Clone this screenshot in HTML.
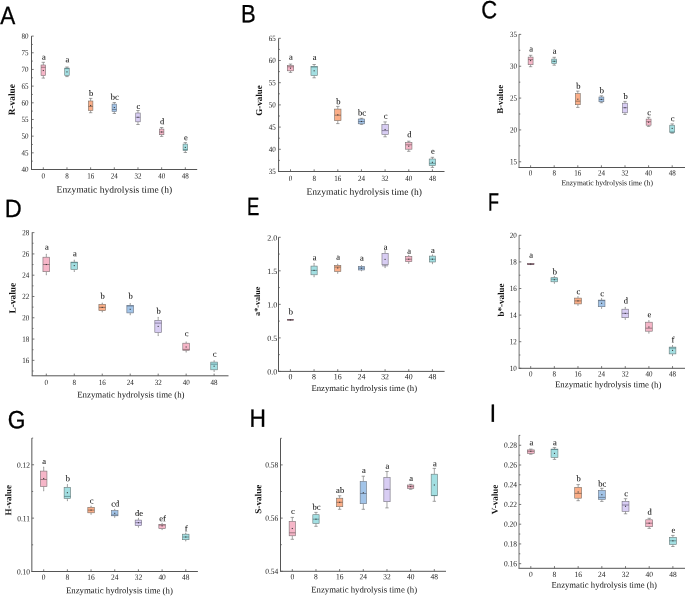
<!DOCTYPE html>
<html><head><meta charset="utf-8"><style>
html,body{margin:0;padding:0;background:#fff;overflow:hidden;}
svg{display:block;will-change:transform;}
text{-webkit-font-smoothing:antialiased;text-rendering:geometricPrecision;}
.tl{font-family:"Liberation Serif",serif;fill:#222;}
.tt{font-family:"Liberation Serif",serif;fill:#151515;}
.yt{font-family:"Liberation Serif",serif;font-weight:bold;fill:#111;}
.lt{font-family:"Liberation Serif",serif;fill:#111;stroke:#111;stroke-width:0.08;}
.pl{font-family:"Liberation Sans",sans-serif;fill:#000;stroke:#000;stroke-width:0.3;}
</style></head><body>
<svg width="685" height="596" viewBox="0 0 685 596">
<path d="M31.5,36.1V169.5" fill="none" stroke="#555" stroke-width="1"/>
<path d="M31.0,169.5H197.2" fill="none" stroke="#555" stroke-width="1"/>
<line x1="31.5" y1="169.50" x2="33.7" y2="169.50" stroke="#555" stroke-width="0.8"/>
<text transform="translate(28.60,172.10) rotate(0.05) scale(0.875,1)" text-anchor="end" class="tl" font-size="8">40</text>
<line x1="31.5" y1="152.82" x2="33.7" y2="152.82" stroke="#555" stroke-width="0.8"/>
<text transform="translate(28.60,155.42) rotate(0.05) scale(0.875,1)" text-anchor="end" class="tl" font-size="8">45</text>
<line x1="31.5" y1="136.15" x2="33.7" y2="136.15" stroke="#555" stroke-width="0.8"/>
<text transform="translate(28.60,138.75) rotate(0.05) scale(0.875,1)" text-anchor="end" class="tl" font-size="8">50</text>
<line x1="31.5" y1="119.47" x2="33.7" y2="119.47" stroke="#555" stroke-width="0.8"/>
<text transform="translate(28.60,122.07) rotate(0.05) scale(0.875,1)" text-anchor="end" class="tl" font-size="8">55</text>
<line x1="31.5" y1="102.80" x2="33.7" y2="102.80" stroke="#555" stroke-width="0.8"/>
<text transform="translate(28.60,105.40) rotate(0.05) scale(0.875,1)" text-anchor="end" class="tl" font-size="8">60</text>
<line x1="31.5" y1="86.12" x2="33.7" y2="86.12" stroke="#555" stroke-width="0.8"/>
<text transform="translate(28.60,88.72) rotate(0.05) scale(0.875,1)" text-anchor="end" class="tl" font-size="8">65</text>
<line x1="31.5" y1="69.45" x2="33.7" y2="69.45" stroke="#555" stroke-width="0.8"/>
<text transform="translate(28.60,72.05) rotate(0.05) scale(0.875,1)" text-anchor="end" class="tl" font-size="8">70</text>
<line x1="31.5" y1="52.77" x2="33.7" y2="52.77" stroke="#555" stroke-width="0.8"/>
<text transform="translate(28.60,55.37) rotate(0.05) scale(0.875,1)" text-anchor="end" class="tl" font-size="8">75</text>
<line x1="31.5" y1="36.10" x2="33.7" y2="36.10" stroke="#555" stroke-width="0.8"/>
<text transform="translate(28.60,38.70) rotate(0.05) scale(0.875,1)" text-anchor="end" class="tl" font-size="8">80</text>
<line x1="31.5" y1="161.16" x2="32.8" y2="161.16" stroke="#555" stroke-width="0.8"/>
<line x1="31.5" y1="144.49" x2="32.8" y2="144.49" stroke="#555" stroke-width="0.8"/>
<line x1="31.5" y1="127.81" x2="32.8" y2="127.81" stroke="#555" stroke-width="0.8"/>
<line x1="31.5" y1="111.14" x2="32.8" y2="111.14" stroke="#555" stroke-width="0.8"/>
<line x1="31.5" y1="94.46" x2="32.8" y2="94.46" stroke="#555" stroke-width="0.8"/>
<line x1="31.5" y1="77.79" x2="32.8" y2="77.79" stroke="#555" stroke-width="0.8"/>
<line x1="31.5" y1="61.11" x2="32.8" y2="61.11" stroke="#555" stroke-width="0.8"/>
<line x1="31.5" y1="44.44" x2="32.8" y2="44.44" stroke="#555" stroke-width="0.8"/>
<line x1="43.30" y1="169.5" x2="43.30" y2="167.3" stroke="#555" stroke-width="0.8"/>
<text transform="translate(43.30,178.60) rotate(0.05) scale(0.875,1)" text-anchor="middle" class="tl" font-size="8">0</text>
<line x1="66.97" y1="169.5" x2="66.97" y2="167.3" stroke="#555" stroke-width="0.8"/>
<text transform="translate(66.97,178.60) rotate(0.05) scale(0.875,1)" text-anchor="middle" class="tl" font-size="8">8</text>
<line x1="90.64" y1="169.5" x2="90.64" y2="167.3" stroke="#555" stroke-width="0.8"/>
<text transform="translate(90.64,178.60) rotate(0.05) scale(0.875,1)" text-anchor="middle" class="tl" font-size="8">16</text>
<line x1="114.31" y1="169.5" x2="114.31" y2="167.3" stroke="#555" stroke-width="0.8"/>
<text transform="translate(114.31,178.60) rotate(0.05) scale(0.875,1)" text-anchor="middle" class="tl" font-size="8">24</text>
<line x1="137.98" y1="169.5" x2="137.98" y2="167.3" stroke="#555" stroke-width="0.8"/>
<text transform="translate(137.98,178.60) rotate(0.05) scale(0.875,1)" text-anchor="middle" class="tl" font-size="8">32</text>
<line x1="161.65" y1="169.5" x2="161.65" y2="167.3" stroke="#555" stroke-width="0.8"/>
<text transform="translate(161.65,178.60) rotate(0.05) scale(0.875,1)" text-anchor="middle" class="tl" font-size="8">40</text>
<line x1="185.32" y1="169.5" x2="185.32" y2="167.3" stroke="#555" stroke-width="0.8"/>
<text transform="translate(185.32,178.60) rotate(0.05) scale(0.875,1)" text-anchor="middle" class="tl" font-size="8">48</text>
<text transform="translate(56.6,192.6) rotate(0.05)" class="tt" font-size="9.5" textLength="115.5" lengthAdjust="spacingAndGlyphs">Enzymatic hydrolysis time (h)</text>
<text transform="translate(14.8,99.7) rotate(-89.95)" text-anchor="middle" class="yt" font-size="9.3">R-value</text>
<text transform="translate(0.2,24) rotate(0.05) scale(0.9,1)" class="pl" font-size="25">A</text>
<path d="M43.30,62.3V65.0M43.30,75.6V78.1M41.60,62.3H45.00M41.60,78.1H45.00" stroke="#666" stroke-width="0.6" fill="none"/>
<rect x="41.05" y="65.0" width="4.5" height="10.60" fill="#f6b6c8" stroke="#7a7072" stroke-width="0.6"/>
<path d="M41.05,67.3H45.55" stroke="#7a5a62" stroke-width="0.7"/>
<rect x="42.75" y="69.95" width="1.1" height="1.1" fill="#3a3a3a"/>
<text transform="translate(43.80,59.65) rotate(0.05)" text-anchor="middle" class="lt" font-size="8.5">a</text>
<path d="M66.97,67.0V68.1M66.97,75.6V76.6M65.27,67.0H68.67M65.27,76.6H68.67" stroke="#666" stroke-width="0.6" fill="none"/>
<rect x="64.72" y="68.1" width="4.5" height="7.50" fill="#a3dfe2" stroke="#6a7a7a" stroke-width="0.6"/>
<path d="M64.72,68.6H69.22" stroke="#4e7a7c" stroke-width="0.7"/>
<rect x="66.42" y="71.35" width="1.1" height="1.1" fill="#3a3a3a"/>
<text transform="translate(67.47,62.35) rotate(0.05)" text-anchor="middle" class="lt" font-size="8.5">a</text>
<path d="M90.64,98.4V101.0M90.64,110.5V112.7M88.94,98.4H92.34M88.94,112.7H92.34" stroke="#666" stroke-width="0.6" fill="none"/>
<rect x="88.39" y="101.0" width="4.5" height="9.50" fill="#fbae88" stroke="#7a7068" stroke-width="0.6"/>
<path d="M88.39,106.4H92.89" stroke="#7a5a48" stroke-width="0.7"/>
<rect x="90.09" y="104.95" width="1.1" height="1.1" fill="#3a3a3a"/>
<text transform="translate(91.14,95.95) rotate(0.05)" text-anchor="middle" class="lt" font-size="8.5">b</text>
<path d="M114.31,102.5V104.1M114.31,111.5V113.5M112.61,102.5H116.01M112.61,113.5H116.01" stroke="#666" stroke-width="0.6" fill="none"/>
<rect x="112.06" y="104.1" width="4.5" height="7.40" fill="#a2c4e8" stroke="#6c7480" stroke-width="0.6"/>
<path d="M112.06,109.5H116.56" stroke="#5a6a80" stroke-width="0.7"/>
<rect x="113.76" y="106.95" width="1.1" height="1.1" fill="#3a3a3a"/>
<text transform="translate(114.81,99.65) rotate(0.05)" text-anchor="middle" class="lt" font-size="8.5">bc</text>
<path d="M137.98,110.5V113.0M137.98,121.8V124.5M136.28,110.5H139.68M136.28,124.5H139.68" stroke="#666" stroke-width="0.6" fill="none"/>
<rect x="135.73" y="113.0" width="4.5" height="8.80" fill="#d8cdf3" stroke="#76727e" stroke-width="0.6"/>
<path d="M135.73,117.3H140.23" stroke="#6a6080" stroke-width="0.7"/>
<rect x="137.43" y="116.75" width="1.1" height="1.1" fill="#3a3a3a"/>
<text transform="translate(138.48,108.95) rotate(0.05)" text-anchor="middle" class="lt" font-size="8.5">c</text>
<path d="M161.65,127.5V129.1M161.65,134.7V136.4M159.95,127.5H163.35M159.95,136.4H163.35" stroke="#666" stroke-width="0.6" fill="none"/>
<rect x="159.40" y="129.1" width="4.5" height="5.60" fill="#f6b6c8" stroke="#7a7072" stroke-width="0.6"/>
<path d="M159.40,132.0H163.90" stroke="#7a5a62" stroke-width="0.7"/>
<rect x="161.10" y="131.45" width="1.1" height="1.1" fill="#3a3a3a"/>
<text transform="translate(162.15,124.35) rotate(0.05)" text-anchor="middle" class="lt" font-size="8.5">d</text>
<path d="M185.32,142.6V144.1M185.32,150.5V152.5M183.62,142.6H187.02M183.62,152.5H187.02" stroke="#666" stroke-width="0.6" fill="none"/>
<rect x="183.07" y="144.1" width="4.5" height="6.40" fill="#a3dfe2" stroke="#6a7a7a" stroke-width="0.6"/>
<path d="M183.07,149.6H187.57" stroke="#4e7a7c" stroke-width="0.7"/>
<rect x="184.77" y="146.85" width="1.1" height="1.1" fill="#3a3a3a"/>
<text transform="translate(185.82,140.25) rotate(0.05)" text-anchor="middle" class="lt" font-size="8.5">e</text>
<path d="M278.6,38.3V171.5" fill="none" stroke="#555" stroke-width="1"/>
<path d="M278.1,171.5H444.5" fill="none" stroke="#555" stroke-width="1"/>
<line x1="278.6" y1="171.50" x2="280.8" y2="171.50" stroke="#555" stroke-width="0.8"/>
<text transform="translate(275.70,174.10) rotate(0.05) scale(0.875,1)" text-anchor="end" class="tl" font-size="8">35</text>
<line x1="278.6" y1="149.30" x2="280.8" y2="149.30" stroke="#555" stroke-width="0.8"/>
<text transform="translate(275.70,151.90) rotate(0.05) scale(0.875,1)" text-anchor="end" class="tl" font-size="8">40</text>
<line x1="278.6" y1="127.10" x2="280.8" y2="127.10" stroke="#555" stroke-width="0.8"/>
<text transform="translate(275.70,129.70) rotate(0.05) scale(0.875,1)" text-anchor="end" class="tl" font-size="8">45</text>
<line x1="278.6" y1="104.90" x2="280.8" y2="104.90" stroke="#555" stroke-width="0.8"/>
<text transform="translate(275.70,107.50) rotate(0.05) scale(0.875,1)" text-anchor="end" class="tl" font-size="8">50</text>
<line x1="278.6" y1="82.70" x2="280.8" y2="82.70" stroke="#555" stroke-width="0.8"/>
<text transform="translate(275.70,85.30) rotate(0.05) scale(0.875,1)" text-anchor="end" class="tl" font-size="8">55</text>
<line x1="278.6" y1="60.50" x2="280.8" y2="60.50" stroke="#555" stroke-width="0.8"/>
<text transform="translate(275.70,63.10) rotate(0.05) scale(0.875,1)" text-anchor="end" class="tl" font-size="8">60</text>
<line x1="278.6" y1="38.30" x2="280.8" y2="38.30" stroke="#555" stroke-width="0.8"/>
<text transform="translate(275.70,40.90) rotate(0.05) scale(0.875,1)" text-anchor="end" class="tl" font-size="8">65</text>
<line x1="278.6" y1="160.40" x2="279.90000000000003" y2="160.40" stroke="#555" stroke-width="0.8"/>
<line x1="278.6" y1="138.20" x2="279.90000000000003" y2="138.20" stroke="#555" stroke-width="0.8"/>
<line x1="278.6" y1="116.00" x2="279.90000000000003" y2="116.00" stroke="#555" stroke-width="0.8"/>
<line x1="278.6" y1="93.80" x2="279.90000000000003" y2="93.80" stroke="#555" stroke-width="0.8"/>
<line x1="278.6" y1="71.60" x2="279.90000000000003" y2="71.60" stroke="#555" stroke-width="0.8"/>
<line x1="278.6" y1="49.40" x2="279.90000000000003" y2="49.40" stroke="#555" stroke-width="0.8"/>
<line x1="290.50" y1="171.5" x2="290.50" y2="169.3" stroke="#555" stroke-width="0.8"/>
<text transform="translate(290.50,181.00) rotate(0.05) scale(0.875,1)" text-anchor="middle" class="tl" font-size="8">0</text>
<line x1="314.15" y1="171.5" x2="314.15" y2="169.3" stroke="#555" stroke-width="0.8"/>
<text transform="translate(314.15,181.00) rotate(0.05) scale(0.875,1)" text-anchor="middle" class="tl" font-size="8">8</text>
<line x1="337.80" y1="171.5" x2="337.80" y2="169.3" stroke="#555" stroke-width="0.8"/>
<text transform="translate(337.80,181.00) rotate(0.05) scale(0.875,1)" text-anchor="middle" class="tl" font-size="8">16</text>
<line x1="361.45" y1="171.5" x2="361.45" y2="169.3" stroke="#555" stroke-width="0.8"/>
<text transform="translate(361.45,181.00) rotate(0.05) scale(0.875,1)" text-anchor="middle" class="tl" font-size="8">24</text>
<line x1="385.10" y1="171.5" x2="385.10" y2="169.3" stroke="#555" stroke-width="0.8"/>
<text transform="translate(385.10,181.00) rotate(0.05) scale(0.875,1)" text-anchor="middle" class="tl" font-size="8">32</text>
<line x1="408.75" y1="171.5" x2="408.75" y2="169.3" stroke="#555" stroke-width="0.8"/>
<text transform="translate(408.75,181.00) rotate(0.05) scale(0.875,1)" text-anchor="middle" class="tl" font-size="8">40</text>
<line x1="432.40" y1="171.5" x2="432.40" y2="169.3" stroke="#555" stroke-width="0.8"/>
<text transform="translate(432.40,181.00) rotate(0.05) scale(0.875,1)" text-anchor="middle" class="tl" font-size="8">48</text>
<text transform="translate(306.4,194.8) rotate(0.05)" class="tt" font-size="9.5" textLength="115.6" lengthAdjust="spacingAndGlyphs">Enzymatic hydrolysis time (h)</text>
<text transform="translate(262.0,100.5) rotate(-89.95)" text-anchor="middle" class="yt" font-size="9.0">G-value</text>
<text transform="translate(240.9,22.2) rotate(0.05) scale(0.88,1)" class="pl" font-size="25">B</text>
<path d="M290.50,64.1V65.5M290.50,70.8V72.4M288.80,64.1H292.20M288.80,72.4H292.20" stroke="#666" stroke-width="0.6" fill="none"/>
<rect x="287.30" y="65.5" width="6.4" height="5.30" fill="#f6b6c8" stroke="#7a7072" stroke-width="0.6"/>
<path d="M287.30,66.8H293.70" stroke="#7a5a62" stroke-width="0.7"/>
<rect x="289.95" y="67.65" width="1.1" height="1.1" fill="#3a3a3a"/>
<text transform="translate(291.00,59.65) rotate(0.05)" text-anchor="middle" class="lt" font-size="8.5">a</text>
<path d="M314.15,64.5V66.3M314.15,75.5V77.8M312.45,64.5H315.85M312.45,77.8H315.85" stroke="#666" stroke-width="0.6" fill="none"/>
<rect x="310.95" y="66.3" width="6.4" height="9.20" fill="#a3dfe2" stroke="#6a7a7a" stroke-width="0.6"/>
<path d="M310.95,67.0H317.35" stroke="#4e7a7c" stroke-width="0.7"/>
<rect x="313.60" y="70.25" width="1.1" height="1.1" fill="#3a3a3a"/>
<text transform="translate(314.65,60.05) rotate(0.05)" text-anchor="middle" class="lt" font-size="8.5">a</text>
<path d="M337.80,106.4V109.1M337.80,120.6V123.6M336.10,106.4H339.50M336.10,123.6H339.50" stroke="#666" stroke-width="0.6" fill="none"/>
<rect x="334.60" y="109.1" width="6.4" height="11.50" fill="#fbae88" stroke="#7a7068" stroke-width="0.6"/>
<path d="M334.60,115.2H341.00" stroke="#7a5a48" stroke-width="0.7"/>
<rect x="337.25" y="114.25" width="1.1" height="1.1" fill="#3a3a3a"/>
<text transform="translate(338.30,104.15) rotate(0.05)" text-anchor="middle" class="lt" font-size="8.5">b</text>
<path d="M361.45,118.3V119.0M361.45,123.8V124.4M359.75,118.3H363.15M359.75,124.4H363.15" stroke="#666" stroke-width="0.6" fill="none"/>
<rect x="358.25" y="119.0" width="6.4" height="4.80" fill="#a2c4e8" stroke="#6c7480" stroke-width="0.6"/>
<path d="M358.25,121.5H364.65" stroke="#5a6a80" stroke-width="0.7"/>
<rect x="360.90" y="120.95" width="1.1" height="1.1" fill="#3a3a3a"/>
<text transform="translate(361.95,115.45) rotate(0.05)" text-anchor="middle" class="lt" font-size="8.5">bc</text>
<path d="M385.10,121.9V124.4M385.10,134.4V136.8M383.40,121.9H386.80M383.40,136.8H386.80" stroke="#666" stroke-width="0.6" fill="none"/>
<rect x="381.90" y="124.4" width="6.4" height="10.00" fill="#d8cdf3" stroke="#76727e" stroke-width="0.6"/>
<path d="M381.90,130.6H388.30" stroke="#6a6080" stroke-width="0.7"/>
<rect x="384.55" y="128.95" width="1.1" height="1.1" fill="#3a3a3a"/>
<text transform="translate(385.60,118.85) rotate(0.05)" text-anchor="middle" class="lt" font-size="8.5">c</text>
<path d="M408.75,141.2V142.6M408.75,149.2V151.3M407.05,141.2H410.45M407.05,151.3H410.45" stroke="#666" stroke-width="0.6" fill="none"/>
<rect x="405.55" y="142.6" width="6.4" height="6.60" fill="#f6b6c8" stroke="#7a7072" stroke-width="0.6"/>
<path d="M405.55,144.8H411.95" stroke="#7a5a62" stroke-width="0.7"/>
<rect x="408.20" y="145.65" width="1.1" height="1.1" fill="#3a3a3a"/>
<text transform="translate(409.25,137.25) rotate(0.05)" text-anchor="middle" class="lt" font-size="8.5">d</text>
<path d="M432.40,157.3V159.0M432.40,165.5V167.4M430.70,157.3H434.10M430.70,167.4H434.10" stroke="#666" stroke-width="0.6" fill="none"/>
<rect x="429.20" y="159.0" width="6.4" height="6.50" fill="#a3dfe2" stroke="#6a7a7a" stroke-width="0.6"/>
<path d="M429.20,163.3H435.60" stroke="#4e7a7c" stroke-width="0.7"/>
<rect x="431.85" y="161.75" width="1.1" height="1.1" fill="#3a3a3a"/>
<text transform="translate(432.90,153.75) rotate(0.05)" text-anchor="middle" class="lt" font-size="8.5">e</text>
<path d="M519.0,34.2V167.5" fill="none" stroke="#727272" stroke-width="1"/>
<path d="M518.5,167.5H685" fill="none" stroke="#555" stroke-width="1"/>
<line x1="519.0" y1="161.77" x2="521.2" y2="161.77" stroke="#555" stroke-width="0.8"/>
<text transform="translate(516.90,164.37) rotate(0.05) scale(0.875,1)" text-anchor="end" class="tl" font-size="8">15</text>
<line x1="519.0" y1="129.92" x2="521.2" y2="129.92" stroke="#555" stroke-width="0.8"/>
<text transform="translate(516.90,132.52) rotate(0.05) scale(0.875,1)" text-anchor="end" class="tl" font-size="8">20</text>
<line x1="519.0" y1="98.08" x2="521.2" y2="98.08" stroke="#555" stroke-width="0.8"/>
<text transform="translate(516.90,100.68) rotate(0.05) scale(0.875,1)" text-anchor="end" class="tl" font-size="8">25</text>
<line x1="519.0" y1="66.24" x2="521.2" y2="66.24" stroke="#555" stroke-width="0.8"/>
<text transform="translate(516.90,68.84) rotate(0.05) scale(0.875,1)" text-anchor="end" class="tl" font-size="8">30</text>
<line x1="519.0" y1="34.39" x2="521.2" y2="34.39" stroke="#555" stroke-width="0.8"/>
<text transform="translate(516.90,36.99) rotate(0.05) scale(0.875,1)" text-anchor="end" class="tl" font-size="8">35</text>
<line x1="519.0" y1="145.85" x2="520.3" y2="145.85" stroke="#555" stroke-width="0.8"/>
<line x1="519.0" y1="114.00" x2="520.3" y2="114.00" stroke="#555" stroke-width="0.8"/>
<line x1="519.0" y1="82.16" x2="520.3" y2="82.16" stroke="#555" stroke-width="0.8"/>
<line x1="519.0" y1="50.31" x2="520.3" y2="50.31" stroke="#555" stroke-width="0.8"/>
<line x1="530.60" y1="167.5" x2="530.60" y2="165.3" stroke="#555" stroke-width="0.8"/>
<text transform="translate(530.60,175.40) rotate(0.05) scale(0.875,1)" text-anchor="middle" class="tl" font-size="8">0</text>
<line x1="554.20" y1="167.5" x2="554.20" y2="165.3" stroke="#555" stroke-width="0.8"/>
<text transform="translate(554.20,175.40) rotate(0.05) scale(0.875,1)" text-anchor="middle" class="tl" font-size="8">8</text>
<line x1="577.80" y1="167.5" x2="577.80" y2="165.3" stroke="#555" stroke-width="0.8"/>
<text transform="translate(577.80,175.40) rotate(0.05) scale(0.875,1)" text-anchor="middle" class="tl" font-size="8">16</text>
<line x1="601.40" y1="167.5" x2="601.40" y2="165.3" stroke="#555" stroke-width="0.8"/>
<text transform="translate(601.40,175.40) rotate(0.05) scale(0.875,1)" text-anchor="middle" class="tl" font-size="8">24</text>
<line x1="625.00" y1="167.5" x2="625.00" y2="165.3" stroke="#555" stroke-width="0.8"/>
<text transform="translate(625.00,175.40) rotate(0.05) scale(0.875,1)" text-anchor="middle" class="tl" font-size="8">32</text>
<line x1="648.60" y1="167.5" x2="648.60" y2="165.3" stroke="#555" stroke-width="0.8"/>
<text transform="translate(648.60,175.40) rotate(0.05) scale(0.875,1)" text-anchor="middle" class="tl" font-size="8">40</text>
<line x1="672.20" y1="167.5" x2="672.20" y2="165.3" stroke="#555" stroke-width="0.8"/>
<text transform="translate(672.20,175.40) rotate(0.05) scale(0.875,1)" text-anchor="middle" class="tl" font-size="8">48</text>
<text transform="translate(561.4,185.2) rotate(0.05)" class="tt" font-size="7.6" textLength="91.5" lengthAdjust="spacingAndGlyphs">Enzymatic hydrolysis time (h)</text>
<text transform="translate(503.0,99.3) rotate(-89.95)" text-anchor="middle" class="yt" font-size="8.8">B-value</text>
<text transform="translate(481.2,18.2) rotate(0.05) scale(0.88,1)" class="pl" font-size="25">C</text>
<path d="M530.60,55.3V57.1M530.60,64.7V66.7M528.90,55.3H532.30M528.90,66.7H532.30" stroke="#666" stroke-width="0.6" fill="none"/>
<rect x="528.15" y="57.1" width="4.9" height="7.60" fill="#f6b6c8" stroke="#7a7072" stroke-width="0.6"/>
<path d="M528.15,59.6H533.05" stroke="#7a5a62" stroke-width="0.7"/>
<rect x="530.05" y="60.05" width="1.1" height="1.1" fill="#3a3a3a"/>
<text transform="translate(531.10,51.55) rotate(0.05)" text-anchor="middle" class="lt" font-size="8.5">a</text>
<path d="M554.20,57.3V59.1M554.20,63.7V65.2M552.50,57.3H555.90M552.50,65.2H555.90" stroke="#666" stroke-width="0.6" fill="none"/>
<rect x="551.75" y="59.1" width="4.9" height="4.60" fill="#a3dfe2" stroke="#6a7a7a" stroke-width="0.6"/>
<path d="M551.75,61.3H556.65" stroke="#4e7a7c" stroke-width="0.7"/>
<rect x="553.65" y="60.75" width="1.1" height="1.1" fill="#3a3a3a"/>
<text transform="translate(554.70,53.85) rotate(0.05)" text-anchor="middle" class="lt" font-size="8.5">a</text>
<path d="M577.80,91.1V93.6M577.80,104.7V107.4M576.10,91.1H579.50M576.10,107.4H579.50" stroke="#666" stroke-width="0.6" fill="none"/>
<rect x="575.35" y="93.6" width="4.9" height="11.10" fill="#fbae88" stroke="#7a7068" stroke-width="0.6"/>
<path d="M575.35,101.2H580.25" stroke="#7a5a48" stroke-width="0.7"/>
<rect x="577.25" y="98.65" width="1.1" height="1.1" fill="#3a3a3a"/>
<text transform="translate(578.30,88.85) rotate(0.05)" text-anchor="middle" class="lt" font-size="8.5">b</text>
<path d="M601.40,95.8V97.0M601.40,101.7V102.7M599.70,95.8H603.10M599.70,102.7H603.10" stroke="#666" stroke-width="0.6" fill="none"/>
<rect x="598.95" y="97.0" width="4.9" height="4.70" fill="#a2c4e8" stroke="#6c7480" stroke-width="0.6"/>
<path d="M598.95,99.4H603.85" stroke="#5a6a80" stroke-width="0.7"/>
<rect x="600.85" y="98.85" width="1.1" height="1.1" fill="#3a3a3a"/>
<text transform="translate(601.90,93.35) rotate(0.05)" text-anchor="middle" class="lt" font-size="8.5">b</text>
<path d="M625.00,101.4V103.2M625.00,112.8V114.5M623.30,101.4H626.70M623.30,114.5H626.70" stroke="#666" stroke-width="0.6" fill="none"/>
<rect x="622.55" y="103.2" width="4.9" height="9.60" fill="#d8cdf3" stroke="#76727e" stroke-width="0.6"/>
<path d="M622.55,107.7H627.45" stroke="#6a6080" stroke-width="0.7"/>
<rect x="624.45" y="107.15" width="1.1" height="1.1" fill="#3a3a3a"/>
<text transform="translate(625.50,98.95) rotate(0.05)" text-anchor="middle" class="lt" font-size="8.5">b</text>
<path d="M648.60,117.3V119.1M648.60,125.2V126.4M646.90,117.3H650.30M646.90,126.4H650.30" stroke="#666" stroke-width="0.6" fill="none"/>
<rect x="646.15" y="119.1" width="4.9" height="6.10" fill="#f6b6c8" stroke="#7a7072" stroke-width="0.6"/>
<path d="M646.15,121.7H651.05" stroke="#7a5a62" stroke-width="0.7"/>
<rect x="648.05" y="121.65" width="1.1" height="1.1" fill="#3a3a3a"/>
<text transform="translate(649.10,115.35) rotate(0.05)" text-anchor="middle" class="lt" font-size="8.5">c</text>
<path d="M672.20,123.9V125.2M672.20,132.4V133.2M670.50,123.9H673.90M670.50,133.2H673.90" stroke="#666" stroke-width="0.6" fill="none"/>
<rect x="669.75" y="125.2" width="4.9" height="7.20" fill="#a3dfe2" stroke="#6a7a7a" stroke-width="0.6"/>
<path d="M669.75,132.0H674.65" stroke="#4e7a7c" stroke-width="0.7"/>
<rect x="671.65" y="127.85" width="1.1" height="1.1" fill="#3a3a3a"/>
<text transform="translate(672.70,121.35) rotate(0.05)" text-anchor="middle" class="lt" font-size="8.5">c</text>
<path d="M32.2,232.3V375.8" fill="none" stroke="#555" stroke-width="1"/>
<path d="M31.700000000000003,375.8H228.5" fill="none" stroke="#555" stroke-width="1"/>
<line x1="32.2" y1="360.36" x2="34.400000000000006" y2="360.36" stroke="#555" stroke-width="0.8"/>
<text transform="translate(29.20,362.96) rotate(0.05) scale(0.875,1)" text-anchor="end" class="tl" font-size="8">16</text>
<line x1="32.2" y1="339.07" x2="34.400000000000006" y2="339.07" stroke="#555" stroke-width="0.8"/>
<text transform="translate(29.20,341.67) rotate(0.05) scale(0.875,1)" text-anchor="end" class="tl" font-size="8">18</text>
<line x1="32.2" y1="317.78" x2="34.400000000000006" y2="317.78" stroke="#555" stroke-width="0.8"/>
<text transform="translate(29.20,320.38) rotate(0.05) scale(0.875,1)" text-anchor="end" class="tl" font-size="8">20</text>
<line x1="32.2" y1="296.49" x2="34.400000000000006" y2="296.49" stroke="#555" stroke-width="0.8"/>
<text transform="translate(29.20,299.09) rotate(0.05) scale(0.875,1)" text-anchor="end" class="tl" font-size="8">22</text>
<line x1="32.2" y1="275.20" x2="34.400000000000006" y2="275.20" stroke="#555" stroke-width="0.8"/>
<text transform="translate(29.20,277.80) rotate(0.05) scale(0.875,1)" text-anchor="end" class="tl" font-size="8">24</text>
<line x1="32.2" y1="253.91" x2="34.400000000000006" y2="253.91" stroke="#555" stroke-width="0.8"/>
<text transform="translate(29.20,256.51) rotate(0.05) scale(0.875,1)" text-anchor="end" class="tl" font-size="8">26</text>
<line x1="32.2" y1="232.62" x2="34.400000000000006" y2="232.62" stroke="#555" stroke-width="0.8"/>
<text transform="translate(29.20,235.22) rotate(0.05) scale(0.875,1)" text-anchor="end" class="tl" font-size="8">28</text>
<line x1="32.2" y1="371.01" x2="33.5" y2="371.01" stroke="#555" stroke-width="0.8"/>
<line x1="32.2" y1="349.72" x2="33.5" y2="349.72" stroke="#555" stroke-width="0.8"/>
<line x1="32.2" y1="328.43" x2="33.5" y2="328.43" stroke="#555" stroke-width="0.8"/>
<line x1="32.2" y1="307.14" x2="33.5" y2="307.14" stroke="#555" stroke-width="0.8"/>
<line x1="32.2" y1="285.85" x2="33.5" y2="285.85" stroke="#555" stroke-width="0.8"/>
<line x1="32.2" y1="264.56" x2="33.5" y2="264.56" stroke="#555" stroke-width="0.8"/>
<line x1="32.2" y1="243.26" x2="33.5" y2="243.26" stroke="#555" stroke-width="0.8"/>
<line x1="46.30" y1="375.8" x2="46.30" y2="373.6" stroke="#555" stroke-width="0.8"/>
<text transform="translate(46.30,385.00) rotate(0.05) scale(0.875,1)" text-anchor="middle" class="tl" font-size="8">0</text>
<line x1="74.27" y1="375.8" x2="74.27" y2="373.6" stroke="#555" stroke-width="0.8"/>
<text transform="translate(74.27,385.00) rotate(0.05) scale(0.875,1)" text-anchor="middle" class="tl" font-size="8">8</text>
<line x1="102.24" y1="375.8" x2="102.24" y2="373.6" stroke="#555" stroke-width="0.8"/>
<text transform="translate(102.24,385.00) rotate(0.05) scale(0.875,1)" text-anchor="middle" class="tl" font-size="8">16</text>
<line x1="130.21" y1="375.8" x2="130.21" y2="373.6" stroke="#555" stroke-width="0.8"/>
<text transform="translate(130.21,385.00) rotate(0.05) scale(0.875,1)" text-anchor="middle" class="tl" font-size="8">24</text>
<line x1="158.18" y1="375.8" x2="158.18" y2="373.6" stroke="#555" stroke-width="0.8"/>
<text transform="translate(158.18,385.00) rotate(0.05) scale(0.875,1)" text-anchor="middle" class="tl" font-size="8">32</text>
<line x1="186.15" y1="375.8" x2="186.15" y2="373.6" stroke="#555" stroke-width="0.8"/>
<text transform="translate(186.15,385.00) rotate(0.05) scale(0.875,1)" text-anchor="middle" class="tl" font-size="8">40</text>
<line x1="214.12" y1="375.8" x2="214.12" y2="373.6" stroke="#555" stroke-width="0.8"/>
<text transform="translate(214.12,385.00) rotate(0.05) scale(0.875,1)" text-anchor="middle" class="tl" font-size="8">48</text>
<text transform="translate(77.2,397.5) rotate(0.05)" class="tt" font-size="8.8" textLength="107.3" lengthAdjust="spacingAndGlyphs">Enzymatic hydrolysis time (h)</text>
<text transform="translate(15.6,298.2) rotate(-89.95)" text-anchor="middle" class="yt" font-size="9.4">L-value</text>
<text transform="translate(4.8,217.0) rotate(0.05) scale(0.94,1)" class="pl" font-size="25">D</text>
<path d="M46.30,254.3V257.2M46.30,271.7V274.8M45.90,254.3H46.70M45.90,274.8H46.70" stroke="#666" stroke-width="0.6" fill="none"/>
<rect x="42.95" y="257.2" width="6.7" height="14.50" fill="#f6b6c8" stroke="#7a7072" stroke-width="0.6"/>
<path d="M42.95,264.5H49.65" stroke="#7a5a62" stroke-width="0.7"/>
<rect x="45.75" y="263.95" width="1.1" height="1.1" fill="#3a3a3a"/>
<text transform="translate(46.80,249.85) rotate(0.05)" text-anchor="middle" class="lt" font-size="8.5">a</text>
<path d="M74.27,260.1V262.1M74.27,269.5V271.5M73.87,260.1H74.67M73.87,271.5H74.67" stroke="#666" stroke-width="0.6" fill="none"/>
<rect x="70.92" y="262.1" width="6.7" height="7.40" fill="#a3dfe2" stroke="#6a7a7a" stroke-width="0.6"/>
<path d="M70.92,262.6H77.62" stroke="#4e7a7c" stroke-width="0.7"/>
<rect x="73.72" y="265.05" width="1.1" height="1.1" fill="#3a3a3a"/>
<text transform="translate(74.77,256.15) rotate(0.05)" text-anchor="middle" class="lt" font-size="8.5">a</text>
<path d="M102.24,303.0V304.3M102.24,310.6V312.0M101.84,303.0H102.64M101.84,312.0H102.64" stroke="#666" stroke-width="0.6" fill="none"/>
<rect x="98.89" y="304.3" width="6.7" height="6.30" fill="#fbae88" stroke="#7a7068" stroke-width="0.6"/>
<path d="M98.89,307.4H105.59" stroke="#7a5a48" stroke-width="0.7"/>
<rect x="101.69" y="306.85" width="1.1" height="1.1" fill="#3a3a3a"/>
<text transform="translate(102.74,298.65) rotate(0.05)" text-anchor="middle" class="lt" font-size="8.5">b</text>
<path d="M130.21,303.6V305.3M130.21,312.9V314.8M129.81,303.6H130.61M129.81,314.8H130.61" stroke="#666" stroke-width="0.6" fill="none"/>
<rect x="126.86" y="305.3" width="6.7" height="7.60" fill="#a2c4e8" stroke="#6c7480" stroke-width="0.6"/>
<path d="M126.86,306.0H133.56" stroke="#5a6a80" stroke-width="0.7"/>
<rect x="129.66" y="308.75" width="1.1" height="1.1" fill="#3a3a3a"/>
<text transform="translate(130.71,298.65) rotate(0.05)" text-anchor="middle" class="lt" font-size="8.5">b</text>
<path d="M158.18,317.4V320.4M158.18,332.5V335.6M157.78,317.4H158.58M157.78,335.6H158.58" stroke="#666" stroke-width="0.6" fill="none"/>
<rect x="154.83" y="320.4" width="6.7" height="12.10" fill="#d8cdf3" stroke="#76727e" stroke-width="0.6"/>
<path d="M154.83,323.1H161.53" stroke="#6a6080" stroke-width="0.7"/>
<rect x="157.63" y="325.85" width="1.1" height="1.1" fill="#3a3a3a"/>
<text transform="translate(158.68,313.65) rotate(0.05)" text-anchor="middle" class="lt" font-size="8.5">b</text>
<path d="M186.15,341.9V343.2M186.15,350.3V352.1M185.75,341.9H186.55M185.75,352.1H186.55" stroke="#666" stroke-width="0.6" fill="none"/>
<rect x="182.80" y="343.2" width="6.7" height="7.10" fill="#f6b6c8" stroke="#7a7072" stroke-width="0.6"/>
<path d="M182.80,349.4H189.50" stroke="#7a5a62" stroke-width="0.7"/>
<rect x="185.60" y="346.45" width="1.1" height="1.1" fill="#3a3a3a"/>
<text transform="translate(186.65,336.25) rotate(0.05)" text-anchor="middle" class="lt" font-size="8.5">c</text>
<path d="M214.12,360.7V362.1M214.12,369.8V371.4M213.72,360.7H214.52M213.72,371.4H214.52" stroke="#666" stroke-width="0.6" fill="none"/>
<rect x="210.77" y="362.1" width="6.7" height="7.70" fill="#a3dfe2" stroke="#6a7a7a" stroke-width="0.6"/>
<path d="M210.77,364.2H217.47" stroke="#4e7a7c" stroke-width="0.7"/>
<rect x="213.57" y="365.65" width="1.1" height="1.1" fill="#3a3a3a"/>
<text transform="translate(214.62,356.65) rotate(0.05)" text-anchor="middle" class="lt" font-size="8.5">c</text>
<path d="M278.5,237.3V371.4" fill="none" stroke="#555" stroke-width="1"/>
<path d="M278.0,371.4H444.6" fill="none" stroke="#555" stroke-width="1"/>
<line x1="278.5" y1="371.40" x2="280.7" y2="371.40" stroke="#555" stroke-width="0.8"/>
<text transform="translate(277.10,374.60) rotate(0.05) scale(0.98,1)" text-anchor="end" class="tl" font-size="8">0.0</text>
<line x1="278.5" y1="337.88" x2="280.7" y2="337.88" stroke="#555" stroke-width="0.8"/>
<text transform="translate(277.10,341.07) rotate(0.05) scale(0.98,1)" text-anchor="end" class="tl" font-size="8">0.5</text>
<line x1="278.5" y1="304.35" x2="280.7" y2="304.35" stroke="#555" stroke-width="0.8"/>
<text transform="translate(277.10,307.55) rotate(0.05) scale(0.98,1)" text-anchor="end" class="tl" font-size="8">1.0</text>
<line x1="278.5" y1="270.82" x2="280.7" y2="270.82" stroke="#555" stroke-width="0.8"/>
<text transform="translate(277.10,274.02) rotate(0.05) scale(0.98,1)" text-anchor="end" class="tl" font-size="8">1.5</text>
<line x1="278.5" y1="237.30" x2="280.7" y2="237.30" stroke="#555" stroke-width="0.8"/>
<text transform="translate(277.10,240.50) rotate(0.05) scale(0.98,1)" text-anchor="end" class="tl" font-size="8">2.0</text>
<line x1="278.5" y1="354.64" x2="279.8" y2="354.64" stroke="#555" stroke-width="0.8"/>
<line x1="278.5" y1="321.11" x2="279.8" y2="321.11" stroke="#555" stroke-width="0.8"/>
<line x1="278.5" y1="287.59" x2="279.8" y2="287.59" stroke="#555" stroke-width="0.8"/>
<line x1="278.5" y1="254.06" x2="279.8" y2="254.06" stroke="#555" stroke-width="0.8"/>
<line x1="290.40" y1="371.4" x2="290.40" y2="369.2" stroke="#555" stroke-width="0.8"/>
<text transform="translate(290.40,379.30) rotate(0.05) scale(0.98,1)" text-anchor="middle" class="tl" font-size="8">0</text>
<line x1="314.07" y1="371.4" x2="314.07" y2="369.2" stroke="#555" stroke-width="0.8"/>
<text transform="translate(314.07,379.30) rotate(0.05) scale(0.98,1)" text-anchor="middle" class="tl" font-size="8">8</text>
<line x1="337.74" y1="371.4" x2="337.74" y2="369.2" stroke="#555" stroke-width="0.8"/>
<text transform="translate(337.74,379.30) rotate(0.05) scale(0.98,1)" text-anchor="middle" class="tl" font-size="8">16</text>
<line x1="361.41" y1="371.4" x2="361.41" y2="369.2" stroke="#555" stroke-width="0.8"/>
<text transform="translate(361.41,379.30) rotate(0.05) scale(0.98,1)" text-anchor="middle" class="tl" font-size="8">24</text>
<line x1="385.08" y1="371.4" x2="385.08" y2="369.2" stroke="#555" stroke-width="0.8"/>
<text transform="translate(385.08,379.30) rotate(0.05) scale(0.98,1)" text-anchor="middle" class="tl" font-size="8">32</text>
<line x1="408.75" y1="371.4" x2="408.75" y2="369.2" stroke="#555" stroke-width="0.8"/>
<text transform="translate(408.75,379.30) rotate(0.05) scale(0.98,1)" text-anchor="middle" class="tl" font-size="8">40</text>
<line x1="432.42" y1="371.4" x2="432.42" y2="369.2" stroke="#555" stroke-width="0.8"/>
<text transform="translate(432.42,379.30) rotate(0.05) scale(0.98,1)" text-anchor="middle" class="tl" font-size="8">48</text>
<text transform="translate(311.4,390.9) rotate(0.05)" class="tt" font-size="8.8" textLength="105.7" lengthAdjust="spacingAndGlyphs">Enzymatic hydrolysis time (h)</text>
<text transform="translate(259.9,301.3) rotate(-89.95)" text-anchor="middle" class="yt" font-size="8.1">a*-value</text>
<text transform="translate(246.9,214.9) rotate(0.05) scale(0.74,1)" class="pl" font-size="25">E</text>
<path d="M290.40,319.5V319.5M290.40,320.2V320.2M290.00,319.5H290.80M290.00,320.2H290.80" stroke="#666" stroke-width="0.6" fill="none"/>
<rect x="287.30" y="319.5" width="6.2" height="0.70" fill="#f6b6c8" stroke="#7a7072" stroke-width="0.6"/>
<path d="M287.30,319.8H293.50" stroke="#6a4a58" stroke-width="1.1"/>
<rect x="289.85" y="319.25" width="1.1" height="1.1" fill="#3a3a3a"/>
<text transform="translate(290.90,314.45) rotate(0.05)" text-anchor="middle" class="lt" font-size="8.5">b</text>
<path d="M314.07,263.4V266.1M314.07,274.8V276.8M313.67,263.4H314.47M313.67,276.8H314.47" stroke="#666" stroke-width="0.6" fill="none"/>
<rect x="310.97" y="266.1" width="6.2" height="8.70" fill="#a3dfe2" stroke="#6a7a7a" stroke-width="0.6"/>
<path d="M310.97,270.4H317.17" stroke="#4e7a7c" stroke-width="0.7"/>
<rect x="313.52" y="269.85" width="1.1" height="1.1" fill="#3a3a3a"/>
<text transform="translate(314.57,260.35) rotate(0.05)" text-anchor="middle" class="lt" font-size="8.5">a</text>
<path d="M337.74,264.1V265.4M337.74,271.5V273.3M337.34,264.1H338.14M337.34,273.3H338.14" stroke="#666" stroke-width="0.6" fill="none"/>
<rect x="334.64" y="265.4" width="6.2" height="6.10" fill="#fbae88" stroke="#7a7068" stroke-width="0.6"/>
<path d="M334.64,267.1H340.84" stroke="#7a5a48" stroke-width="0.7"/>
<rect x="337.19" y="267.45" width="1.1" height="1.1" fill="#3a3a3a"/>
<text transform="translate(338.24,259.65) rotate(0.05)" text-anchor="middle" class="lt" font-size="8.5">a</text>
<path d="M361.41,265.6V266.3M361.41,270.0V270.8M361.01,265.6H361.81M361.01,270.8H361.81" stroke="#666" stroke-width="0.6" fill="none"/>
<rect x="358.31" y="266.3" width="6.2" height="3.70" fill="#a2c4e8" stroke="#6c7480" stroke-width="0.6"/>
<path d="M358.31,268.2H364.51" stroke="#5a6a80" stroke-width="0.7"/>
<rect x="360.86" y="267.65" width="1.1" height="1.1" fill="#3a3a3a"/>
<text transform="translate(361.91,260.85) rotate(0.05)" text-anchor="middle" class="lt" font-size="8.5">a</text>
<path d="M385.08,250.7V253.3M385.08,264.7V267.6M384.68,250.7H385.48M384.68,267.6H385.48" stroke="#666" stroke-width="0.6" fill="none"/>
<rect x="381.98" y="253.3" width="6.2" height="11.40" fill="#d8cdf3" stroke="#76727e" stroke-width="0.6"/>
<path d="M381.98,265.8H388.18" stroke="#6a6080" stroke-width="0.7"/>
<rect x="384.53" y="258.85" width="1.1" height="1.1" fill="#3a3a3a"/>
<text transform="translate(385.58,249.65) rotate(0.05)" text-anchor="middle" class="lt" font-size="8.5">a</text>
<path d="M408.75,255.3V256.3M408.75,261.7V263.3M408.35,255.3H409.15M408.35,263.3H409.15" stroke="#666" stroke-width="0.6" fill="none"/>
<rect x="405.65" y="256.3" width="6.2" height="5.40" fill="#f6b6c8" stroke="#7a7072" stroke-width="0.6"/>
<path d="M405.65,259.2H411.85" stroke="#7a5a62" stroke-width="0.7"/>
<rect x="408.20" y="258.65" width="1.1" height="1.1" fill="#3a3a3a"/>
<text transform="translate(409.25,253.75) rotate(0.05)" text-anchor="middle" class="lt" font-size="8.5">a</text>
<path d="M432.42,254.8V256.1M432.42,262.0V263.7M432.02,254.8H432.82M432.02,263.7H432.82" stroke="#666" stroke-width="0.6" fill="none"/>
<rect x="429.32" y="256.1" width="6.2" height="5.90" fill="#a3dfe2" stroke="#6a7a7a" stroke-width="0.6"/>
<path d="M429.32,259.2H435.52" stroke="#4e7a7c" stroke-width="0.7"/>
<rect x="431.87" y="258.65" width="1.1" height="1.1" fill="#3a3a3a"/>
<text transform="translate(432.92,253.05) rotate(0.05)" text-anchor="middle" class="lt" font-size="8.5">a</text>
<path d="M519.1,235.3V368.3" fill="none" stroke="#727272" stroke-width="1"/>
<path d="M518.6,368.3H685" fill="none" stroke="#555" stroke-width="1"/>
<line x1="519.1" y1="368.30" x2="521.3000000000001" y2="368.30" stroke="#555" stroke-width="0.8"/>
<text transform="translate(516.80,370.90) rotate(0.05) scale(0.875,1)" text-anchor="end" class="tl" font-size="8">10</text>
<line x1="519.1" y1="341.70" x2="521.3000000000001" y2="341.70" stroke="#555" stroke-width="0.8"/>
<text transform="translate(516.80,344.30) rotate(0.05) scale(0.875,1)" text-anchor="end" class="tl" font-size="8">12</text>
<line x1="519.1" y1="315.10" x2="521.3000000000001" y2="315.10" stroke="#555" stroke-width="0.8"/>
<text transform="translate(516.80,317.70) rotate(0.05) scale(0.875,1)" text-anchor="end" class="tl" font-size="8">14</text>
<line x1="519.1" y1="288.50" x2="521.3000000000001" y2="288.50" stroke="#555" stroke-width="0.8"/>
<text transform="translate(516.80,291.10) rotate(0.05) scale(0.875,1)" text-anchor="end" class="tl" font-size="8">16</text>
<line x1="519.1" y1="261.90" x2="521.3000000000001" y2="261.90" stroke="#555" stroke-width="0.8"/>
<text transform="translate(516.80,264.50) rotate(0.05) scale(0.875,1)" text-anchor="end" class="tl" font-size="8">18</text>
<line x1="519.1" y1="235.30" x2="521.3000000000001" y2="235.30" stroke="#555" stroke-width="0.8"/>
<text transform="translate(516.80,237.90) rotate(0.05) scale(0.875,1)" text-anchor="end" class="tl" font-size="8">20</text>
<line x1="519.1" y1="355.00" x2="520.4" y2="355.00" stroke="#555" stroke-width="0.8"/>
<line x1="519.1" y1="328.40" x2="520.4" y2="328.40" stroke="#555" stroke-width="0.8"/>
<line x1="519.1" y1="301.80" x2="520.4" y2="301.80" stroke="#555" stroke-width="0.8"/>
<line x1="519.1" y1="275.20" x2="520.4" y2="275.20" stroke="#555" stroke-width="0.8"/>
<line x1="519.1" y1="248.60" x2="520.4" y2="248.60" stroke="#555" stroke-width="0.8"/>
<line x1="530.70" y1="368.3" x2="530.70" y2="366.1" stroke="#555" stroke-width="0.8"/>
<text transform="translate(530.70,376.50) rotate(0.05) scale(0.875,1)" text-anchor="middle" class="tl" font-size="8">0</text>
<line x1="554.34" y1="368.3" x2="554.34" y2="366.1" stroke="#555" stroke-width="0.8"/>
<text transform="translate(554.34,376.50) rotate(0.05) scale(0.875,1)" text-anchor="middle" class="tl" font-size="8">8</text>
<line x1="577.98" y1="368.3" x2="577.98" y2="366.1" stroke="#555" stroke-width="0.8"/>
<text transform="translate(577.98,376.50) rotate(0.05) scale(0.875,1)" text-anchor="middle" class="tl" font-size="8">16</text>
<line x1="601.62" y1="368.3" x2="601.62" y2="366.1" stroke="#555" stroke-width="0.8"/>
<text transform="translate(601.62,376.50) rotate(0.05) scale(0.875,1)" text-anchor="middle" class="tl" font-size="8">24</text>
<line x1="625.26" y1="368.3" x2="625.26" y2="366.1" stroke="#555" stroke-width="0.8"/>
<text transform="translate(625.26,376.50) rotate(0.05) scale(0.875,1)" text-anchor="middle" class="tl" font-size="8">32</text>
<line x1="648.90" y1="368.3" x2="648.90" y2="366.1" stroke="#555" stroke-width="0.8"/>
<text transform="translate(648.90,376.50) rotate(0.05) scale(0.875,1)" text-anchor="middle" class="tl" font-size="8">40</text>
<line x1="672.54" y1="368.3" x2="672.54" y2="366.1" stroke="#555" stroke-width="0.8"/>
<text transform="translate(672.54,376.50) rotate(0.05) scale(0.875,1)" text-anchor="middle" class="tl" font-size="8">48</text>
<text transform="translate(555.0,387.3) rotate(0.05)" class="tt" font-size="8.8" textLength="106.4" lengthAdjust="spacingAndGlyphs">Enzymatic hydrolysis time (h)</text>
<text transform="translate(504.0,300.0) rotate(-89.95)" text-anchor="middle" class="yt" font-size="9.0">b*-value</text>
<text transform="translate(487.9,210.4) rotate(0.05) scale(0.72,1)" class="pl" font-size="25">F</text>
<path d="M530.70,263.6V263.6M530.70,264.6V264.6M530.30,263.6H531.10M530.30,264.6H531.10" stroke="#666" stroke-width="0.6" fill="none"/>
<rect x="527.35" y="263.6" width="6.7" height="1.00" fill="#f6b6c8" stroke="#7a7072" stroke-width="0.6"/>
<path d="M527.35,264.1H534.05" stroke="#6a4a58" stroke-width="1.1"/>
<rect x="530.15" y="263.55" width="1.1" height="1.1" fill="#3a3a3a"/>
<text transform="translate(531.20,257.85) rotate(0.05)" text-anchor="middle" class="lt" font-size="8.5">a</text>
<path d="M554.34,276.4V277.7M554.34,281.8V283.3M553.94,276.4H554.74M553.94,283.3H554.74" stroke="#666" stroke-width="0.6" fill="none"/>
<rect x="550.99" y="277.7" width="6.7" height="4.10" fill="#a3dfe2" stroke="#6a7a7a" stroke-width="0.6"/>
<path d="M550.99,279.2H557.69" stroke="#4e7a7c" stroke-width="0.7"/>
<rect x="553.79" y="279.15" width="1.1" height="1.1" fill="#3a3a3a"/>
<text transform="translate(554.84,274.45) rotate(0.05)" text-anchor="middle" class="lt" font-size="8.5">b</text>
<path d="M577.98,296.6V298.1M577.98,303.9V305.3M577.58,296.6H578.38M577.58,305.3H578.38" stroke="#666" stroke-width="0.6" fill="none"/>
<rect x="574.63" y="298.1" width="6.7" height="5.80" fill="#fbae88" stroke="#7a7068" stroke-width="0.6"/>
<path d="M574.63,300.9H581.33" stroke="#7a5a48" stroke-width="0.7"/>
<rect x="577.43" y="300.35" width="1.1" height="1.1" fill="#3a3a3a"/>
<text transform="translate(578.48,294.35) rotate(0.05)" text-anchor="middle" class="lt" font-size="8.5">c</text>
<path d="M601.62,298.6V300.1M601.62,306.7V308.4M601.22,298.6H602.02M601.22,308.4H602.02" stroke="#666" stroke-width="0.6" fill="none"/>
<rect x="598.27" y="300.1" width="6.7" height="6.60" fill="#a2c4e8" stroke="#6c7480" stroke-width="0.6"/>
<path d="M598.27,300.6H604.97" stroke="#5a6a80" stroke-width="0.7"/>
<rect x="601.07" y="302.75" width="1.1" height="1.1" fill="#3a3a3a"/>
<text transform="translate(602.12,296.35) rotate(0.05)" text-anchor="middle" class="lt" font-size="8.5">c</text>
<path d="M625.26,307.4V309.2M625.26,317.7V319.4M624.86,307.4H625.66M624.86,319.4H625.66" stroke="#666" stroke-width="0.6" fill="none"/>
<rect x="621.91" y="309.2" width="6.7" height="8.50" fill="#d8cdf3" stroke="#76727e" stroke-width="0.6"/>
<path d="M621.91,313.4H628.61" stroke="#6a6080" stroke-width="0.7"/>
<rect x="624.71" y="312.85" width="1.1" height="1.1" fill="#3a3a3a"/>
<text transform="translate(625.76,303.55) rotate(0.05)" text-anchor="middle" class="lt" font-size="8.5">d</text>
<path d="M648.90,320.6V322.2M648.90,331.2V333.2M648.50,320.6H649.30M648.50,333.2H649.30" stroke="#666" stroke-width="0.6" fill="none"/>
<rect x="645.55" y="322.2" width="6.7" height="9.00" fill="#f6b6c8" stroke="#7a7072" stroke-width="0.6"/>
<path d="M645.55,328.2H652.25" stroke="#7a5a62" stroke-width="0.7"/>
<rect x="648.35" y="326.45" width="1.1" height="1.1" fill="#3a3a3a"/>
<text transform="translate(649.40,317.35) rotate(0.05)" text-anchor="middle" class="lt" font-size="8.5">e</text>
<path d="M672.54,345.5V347.1M672.54,353.9V355.6M672.14,345.5H672.94M672.14,355.6H672.94" stroke="#666" stroke-width="0.6" fill="none"/>
<rect x="669.19" y="347.1" width="6.7" height="6.80" fill="#a3dfe2" stroke="#6a7a7a" stroke-width="0.6"/>
<path d="M669.19,348.1H675.89" stroke="#4e7a7c" stroke-width="0.7"/>
<rect x="671.99" y="349.85" width="1.1" height="1.1" fill="#3a3a3a"/>
<text transform="translate(673.04,342.55) rotate(0.05)" text-anchor="middle" class="lt" font-size="8.5">f</text>
<path d="M31.85,438.1V571.5" fill="none" stroke="#555" stroke-width="1"/>
<path d="M31.35,571.5H197.9" fill="none" stroke="#555" stroke-width="1"/>
<line x1="31.85" y1="571.50" x2="34.050000000000004" y2="571.50" stroke="#555" stroke-width="0.8"/>
<text transform="translate(29.95,574.50) rotate(0.05) scale(0.93,1)" text-anchor="end" class="tl" font-size="8">0.10</text>
<line x1="31.85" y1="518.14" x2="34.050000000000004" y2="518.14" stroke="#555" stroke-width="0.8"/>
<text transform="translate(29.95,521.14) rotate(0.05) scale(0.93,1)" text-anchor="end" class="tl" font-size="8">0.11</text>
<line x1="31.85" y1="464.78" x2="34.050000000000004" y2="464.78" stroke="#555" stroke-width="0.8"/>
<text transform="translate(29.95,467.78) rotate(0.05) scale(0.93,1)" text-anchor="end" class="tl" font-size="8">0.12</text>
<line x1="31.85" y1="544.82" x2="33.15" y2="544.82" stroke="#555" stroke-width="0.8"/>
<line x1="31.85" y1="491.46" x2="33.15" y2="491.46" stroke="#555" stroke-width="0.8"/>
<line x1="31.85" y1="438.10" x2="33.15" y2="438.10" stroke="#555" stroke-width="0.8"/>
<line x1="43.70" y1="571.5" x2="43.70" y2="569.3" stroke="#555" stroke-width="0.8"/>
<text transform="translate(43.70,579.70) rotate(0.05) scale(0.93,1)" text-anchor="middle" class="tl" font-size="8">0</text>
<line x1="67.38" y1="571.5" x2="67.38" y2="569.3" stroke="#555" stroke-width="0.8"/>
<text transform="translate(67.38,579.70) rotate(0.05) scale(0.93,1)" text-anchor="middle" class="tl" font-size="8">8</text>
<line x1="91.06" y1="571.5" x2="91.06" y2="569.3" stroke="#555" stroke-width="0.8"/>
<text transform="translate(91.06,579.70) rotate(0.05) scale(0.93,1)" text-anchor="middle" class="tl" font-size="8">16</text>
<line x1="114.74" y1="571.5" x2="114.74" y2="569.3" stroke="#555" stroke-width="0.8"/>
<text transform="translate(114.74,579.70) rotate(0.05) scale(0.93,1)" text-anchor="middle" class="tl" font-size="8">24</text>
<line x1="138.42" y1="571.5" x2="138.42" y2="569.3" stroke="#555" stroke-width="0.8"/>
<text transform="translate(138.42,579.70) rotate(0.05) scale(0.93,1)" text-anchor="middle" class="tl" font-size="8">32</text>
<line x1="162.10" y1="571.5" x2="162.10" y2="569.3" stroke="#555" stroke-width="0.8"/>
<text transform="translate(162.10,579.70) rotate(0.05) scale(0.93,1)" text-anchor="middle" class="tl" font-size="8">40</text>
<line x1="185.78" y1="571.5" x2="185.78" y2="569.3" stroke="#555" stroke-width="0.8"/>
<text transform="translate(185.78,579.70) rotate(0.05) scale(0.93,1)" text-anchor="middle" class="tl" font-size="8">48</text>
<text transform="translate(65.9,593.3) rotate(0.05)" class="tt" font-size="8.8" textLength="107.0" lengthAdjust="spacingAndGlyphs">Enzymatic hydrolysis time (h)</text>
<text transform="translate(11.3,500.2) rotate(-89.95)" text-anchor="middle" class="yt" font-size="9.0">H-value</text>
<text transform="translate(7.8,428.2) rotate(0.05) scale(0.91,1)" class="pl" font-size="25">G</text>
<path d="M43.70,467.1V471.1M43.70,486.5V490.8M43.30,467.1H44.10M43.30,490.8H44.10" stroke="#666" stroke-width="0.6" fill="none"/>
<rect x="40.45" y="471.1" width="6.5" height="15.40" fill="#f6b6c8" stroke="#7a7072" stroke-width="0.6"/>
<path d="M40.45,479.5H46.95" stroke="#7a5a62" stroke-width="0.7"/>
<rect x="43.15" y="477.95" width="1.1" height="1.1" fill="#3a3a3a"/>
<text transform="translate(44.20,464.05) rotate(0.05)" text-anchor="middle" class="lt" font-size="8.5">a</text>
<path d="M67.38,484.6V487.3M67.38,498.4V500.7M66.98,484.6H67.78M66.98,500.7H67.78" stroke="#666" stroke-width="0.6" fill="none"/>
<rect x="64.13" y="487.3" width="6.5" height="11.10" fill="#a3dfe2" stroke="#6a7a7a" stroke-width="0.6"/>
<path d="M64.13,496.4H70.63" stroke="#4e7a7c" stroke-width="0.7"/>
<rect x="66.83" y="492.15" width="1.1" height="1.1" fill="#3a3a3a"/>
<text transform="translate(67.88,481.15) rotate(0.05)" text-anchor="middle" class="lt" font-size="8.5">b</text>
<path d="M91.06,506.1V507.3M91.06,512.8V514.3M90.66,506.1H91.46M90.66,514.3H91.46" stroke="#666" stroke-width="0.6" fill="none"/>
<rect x="87.81" y="507.3" width="6.5" height="5.50" fill="#fbae88" stroke="#7a7068" stroke-width="0.6"/>
<path d="M87.81,510.1H94.31" stroke="#7a5a48" stroke-width="0.7"/>
<rect x="90.51" y="509.55" width="1.1" height="1.1" fill="#3a3a3a"/>
<text transform="translate(91.56,503.45) rotate(0.05)" text-anchor="middle" class="lt" font-size="8.5">c</text>
<path d="M114.74,509.3V510.6M114.74,515.8V517.3M114.34,509.3H115.14M114.34,517.3H115.14" stroke="#666" stroke-width="0.6" fill="none"/>
<rect x="111.49" y="510.6" width="6.5" height="5.20" fill="#a2c4e8" stroke="#6c7480" stroke-width="0.6"/>
<path d="M111.49,515.0H117.99" stroke="#5a6a80" stroke-width="0.7"/>
<rect x="114.19" y="512.75" width="1.1" height="1.1" fill="#3a3a3a"/>
<text transform="translate(115.24,506.45) rotate(0.05)" text-anchor="middle" class="lt" font-size="8.5">cd</text>
<path d="M138.42,518.3V520.1M138.42,525.7V527.2M138.02,518.3H138.82M138.02,527.2H138.82" stroke="#666" stroke-width="0.6" fill="none"/>
<rect x="135.17" y="520.1" width="6.5" height="5.60" fill="#d8cdf3" stroke="#76727e" stroke-width="0.6"/>
<path d="M135.17,522.7H141.67" stroke="#6a6080" stroke-width="0.7"/>
<rect x="137.87" y="522.15" width="1.1" height="1.1" fill="#3a3a3a"/>
<text transform="translate(138.92,516.05) rotate(0.05)" text-anchor="middle" class="lt" font-size="8.5">de</text>
<path d="M162.10,523.3V524.3M162.10,528.6V529.6M161.70,523.3H162.50M161.70,529.6H162.50" stroke="#666" stroke-width="0.6" fill="none"/>
<rect x="158.85" y="524.3" width="6.5" height="4.30" fill="#f6b6c8" stroke="#7a7072" stroke-width="0.6"/>
<path d="M158.85,525.1H165.35" stroke="#7a5a62" stroke-width="0.7"/>
<rect x="161.55" y="525.35" width="1.1" height="1.1" fill="#3a3a3a"/>
<text transform="translate(162.60,521.15) rotate(0.05)" text-anchor="middle" class="lt" font-size="8.5">ef</text>
<path d="M185.78,533.0V534.2M185.78,539.7V541.0M185.38,533.0H186.18M185.38,541.0H186.18" stroke="#666" stroke-width="0.6" fill="none"/>
<rect x="182.53" y="534.2" width="6.5" height="5.50" fill="#a3dfe2" stroke="#6a7a7a" stroke-width="0.6"/>
<path d="M182.53,537.0H189.03" stroke="#4e7a7c" stroke-width="0.7"/>
<rect x="185.23" y="536.45" width="1.1" height="1.1" fill="#3a3a3a"/>
<text transform="translate(186.28,531.35) rotate(0.05)" text-anchor="middle" class="lt" font-size="8.5">f</text>
<path d="M280.5,438.3V571.3" fill="none" stroke="#555" stroke-width="1"/>
<path d="M280.0,571.3H446.0" fill="none" stroke="#555" stroke-width="1"/>
<line x1="280.5" y1="571.30" x2="282.7" y2="571.30" stroke="#555" stroke-width="0.8"/>
<text transform="translate(278.20,573.90) rotate(0.05) scale(0.93,1)" text-anchor="end" class="tl" font-size="8">0.54</text>
<line x1="280.5" y1="518.10" x2="282.7" y2="518.10" stroke="#555" stroke-width="0.8"/>
<text transform="translate(278.20,520.70) rotate(0.05) scale(0.93,1)" text-anchor="end" class="tl" font-size="8">0.56</text>
<line x1="280.5" y1="464.90" x2="282.7" y2="464.90" stroke="#555" stroke-width="0.8"/>
<text transform="translate(278.20,467.50) rotate(0.05) scale(0.93,1)" text-anchor="end" class="tl" font-size="8">0.58</text>
<line x1="280.5" y1="544.70" x2="281.8" y2="544.70" stroke="#555" stroke-width="0.8"/>
<line x1="280.5" y1="491.50" x2="281.8" y2="491.50" stroke="#555" stroke-width="0.8"/>
<line x1="280.5" y1="438.30" x2="281.8" y2="438.30" stroke="#555" stroke-width="0.8"/>
<line x1="292.30" y1="571.3" x2="292.30" y2="569.0999999999999" stroke="#555" stroke-width="0.8"/>
<text transform="translate(292.30,579.30) rotate(0.05) scale(0.93,1)" text-anchor="middle" class="tl" font-size="8">0</text>
<line x1="315.97" y1="571.3" x2="315.97" y2="569.0999999999999" stroke="#555" stroke-width="0.8"/>
<text transform="translate(315.97,579.30) rotate(0.05) scale(0.93,1)" text-anchor="middle" class="tl" font-size="8">8</text>
<line x1="339.64" y1="571.3" x2="339.64" y2="569.0999999999999" stroke="#555" stroke-width="0.8"/>
<text transform="translate(339.64,579.30) rotate(0.05) scale(0.93,1)" text-anchor="middle" class="tl" font-size="8">16</text>
<line x1="363.31" y1="571.3" x2="363.31" y2="569.0999999999999" stroke="#555" stroke-width="0.8"/>
<text transform="translate(363.31,579.30) rotate(0.05) scale(0.93,1)" text-anchor="middle" class="tl" font-size="8">24</text>
<line x1="386.98" y1="571.3" x2="386.98" y2="569.0999999999999" stroke="#555" stroke-width="0.8"/>
<text transform="translate(386.98,579.30) rotate(0.05) scale(0.93,1)" text-anchor="middle" class="tl" font-size="8">32</text>
<line x1="410.65" y1="571.3" x2="410.65" y2="569.0999999999999" stroke="#555" stroke-width="0.8"/>
<text transform="translate(410.65,579.30) rotate(0.05) scale(0.93,1)" text-anchor="middle" class="tl" font-size="8">40</text>
<line x1="434.32" y1="571.3" x2="434.32" y2="569.0999999999999" stroke="#555" stroke-width="0.8"/>
<text transform="translate(434.32,579.30) rotate(0.05) scale(0.93,1)" text-anchor="middle" class="tl" font-size="8">48</text>
<text transform="translate(311.3,592.5) rotate(0.05)" class="tt" font-size="8.8" textLength="105.8" lengthAdjust="spacingAndGlyphs">Enzymatic hydrolysis time (h)</text>
<text transform="translate(261.2,499.2) rotate(-89.95)" text-anchor="middle" class="yt" font-size="9.2">S-value</text>
<text transform="translate(249.4,426.7) rotate(0.05) scale(0.91,1)" class="pl" font-size="25">H</text>
<path d="M292.30,517.4V521.4M292.30,535.8V539.3M290.60,517.4H294.00M290.60,539.3H294.00" stroke="#666" stroke-width="0.6" fill="none"/>
<rect x="289.15" y="521.4" width="6.3" height="14.40" fill="#f6b6c8" stroke="#7a7072" stroke-width="0.6"/>
<path d="M289.15,532.8H295.45" stroke="#7a5a62" stroke-width="0.7"/>
<rect x="291.75" y="527.95" width="1.1" height="1.1" fill="#3a3a3a"/>
<text transform="translate(292.80,513.95) rotate(0.05)" text-anchor="middle" class="lt" font-size="8.5">c</text>
<path d="M315.97,512.4V514.7M315.97,523.5V526.3M314.27,512.4H317.67M314.27,526.3H317.67" stroke="#666" stroke-width="0.6" fill="none"/>
<rect x="312.82" y="514.7" width="6.3" height="8.80" fill="#a3dfe2" stroke="#6a7a7a" stroke-width="0.6"/>
<path d="M312.82,519.2H319.12" stroke="#4e7a7c" stroke-width="0.7"/>
<rect x="315.42" y="518.65" width="1.1" height="1.1" fill="#3a3a3a"/>
<text transform="translate(316.47,509.85) rotate(0.05)" text-anchor="middle" class="lt" font-size="8.5">bc</text>
<path d="M339.64,495.8V498.2M339.64,506.7V509.3M337.94,495.8H341.34M337.94,509.3H341.34" stroke="#666" stroke-width="0.6" fill="none"/>
<rect x="336.49" y="498.2" width="6.3" height="8.50" fill="#fbae88" stroke="#7a7068" stroke-width="0.6"/>
<path d="M336.49,502.3H342.79" stroke="#7a5a48" stroke-width="0.7"/>
<rect x="339.09" y="501.75" width="1.1" height="1.1" fill="#3a3a3a"/>
<text transform="translate(340.14,492.95) rotate(0.05)" text-anchor="middle" class="lt" font-size="8.5">ab</text>
<path d="M363.31,476.2V481.5M363.31,503.7V509.3M361.61,476.2H365.01M361.61,509.3H365.01" stroke="#666" stroke-width="0.6" fill="none"/>
<rect x="360.16" y="481.5" width="6.3" height="22.20" fill="#a2c4e8" stroke="#6c7480" stroke-width="0.6"/>
<path d="M360.16,493.5H366.46" stroke="#5a6a80" stroke-width="0.7"/>
<rect x="362.76" y="492.15" width="1.1" height="1.1" fill="#3a3a3a"/>
<text transform="translate(363.81,472.95) rotate(0.05)" text-anchor="middle" class="lt" font-size="8.5">a</text>
<path d="M386.98,471.5V477.6M386.98,501.7V507.9M385.28,471.5H388.68M385.28,507.9H388.68" stroke="#666" stroke-width="0.6" fill="none"/>
<rect x="383.83" y="477.6" width="6.3" height="24.10" fill="#d8cdf3" stroke="#76727e" stroke-width="0.6"/>
<path d="M383.83,489.4H390.13" stroke="#6a6080" stroke-width="0.7"/>
<rect x="386.43" y="488.85" width="1.1" height="1.1" fill="#3a3a3a"/>
<text transform="translate(387.48,468.75) rotate(0.05)" text-anchor="middle" class="lt" font-size="8.5">a</text>
<path d="M410.65,484.3V485.0M410.65,488.4V489.3M408.95,484.3H412.35M408.95,489.3H412.35" stroke="#666" stroke-width="0.6" fill="none"/>
<rect x="407.50" y="485.0" width="6.3" height="3.40" fill="#f6b6c8" stroke="#7a7072" stroke-width="0.6"/>
<path d="M407.50,486.6H413.80" stroke="#7a5a62" stroke-width="0.7"/>
<rect x="410.10" y="486.05" width="1.1" height="1.1" fill="#3a3a3a"/>
<text transform="translate(411.15,481.05) rotate(0.05)" text-anchor="middle" class="lt" font-size="8.5">a</text>
<path d="M434.32,468.4V474.2M434.32,495.6V501.3M432.62,468.4H436.02M432.62,501.3H436.02" stroke="#666" stroke-width="0.6" fill="none"/>
<rect x="431.17" y="474.2" width="6.3" height="21.40" fill="#a3dfe2" stroke="#6a7a7a" stroke-width="0.6"/>
<path d="M431.17,495.6H437.47" stroke="#4e7a7c" stroke-width="0.7"/>
<rect x="433.77" y="484.45" width="1.1" height="1.1" fill="#3a3a3a"/>
<text transform="translate(434.82,466.15) rotate(0.05)" text-anchor="middle" class="lt" font-size="8.5">a</text>
<path d="M519.0,435.2V568.3" fill="none" stroke="#727272" stroke-width="1"/>
<path d="M518.5,568.3H685" fill="none" stroke="#555" stroke-width="1"/>
<line x1="519.0" y1="563.66" x2="521.2" y2="563.66" stroke="#555" stroke-width="0.8"/>
<text transform="translate(517.00,566.26) rotate(0.05) scale(0.93,1)" text-anchor="end" class="tl" font-size="8">0.16</text>
<line x1="519.0" y1="543.93" x2="521.2" y2="543.93" stroke="#555" stroke-width="0.8"/>
<text transform="translate(517.00,546.53) rotate(0.05) scale(0.93,1)" text-anchor="end" class="tl" font-size="8">0.18</text>
<line x1="519.0" y1="524.20" x2="521.2" y2="524.20" stroke="#555" stroke-width="0.8"/>
<text transform="translate(517.00,526.80) rotate(0.05) scale(0.93,1)" text-anchor="end" class="tl" font-size="8">0.20</text>
<line x1="519.0" y1="504.46" x2="521.2" y2="504.46" stroke="#555" stroke-width="0.8"/>
<text transform="translate(517.00,507.06) rotate(0.05) scale(0.93,1)" text-anchor="end" class="tl" font-size="8">0.22</text>
<line x1="519.0" y1="484.73" x2="521.2" y2="484.73" stroke="#555" stroke-width="0.8"/>
<text transform="translate(517.00,487.33) rotate(0.05) scale(0.93,1)" text-anchor="end" class="tl" font-size="8">0.24</text>
<line x1="519.0" y1="465.00" x2="521.2" y2="465.00" stroke="#555" stroke-width="0.8"/>
<text transform="translate(517.00,467.60) rotate(0.05) scale(0.93,1)" text-anchor="end" class="tl" font-size="8">0.26</text>
<line x1="519.0" y1="445.26" x2="521.2" y2="445.26" stroke="#555" stroke-width="0.8"/>
<text transform="translate(517.00,447.86) rotate(0.05) scale(0.93,1)" text-anchor="end" class="tl" font-size="8">0.28</text>
<line x1="519.0" y1="553.80" x2="520.3" y2="553.80" stroke="#555" stroke-width="0.8"/>
<line x1="519.0" y1="534.06" x2="520.3" y2="534.06" stroke="#555" stroke-width="0.8"/>
<line x1="519.0" y1="514.33" x2="520.3" y2="514.33" stroke="#555" stroke-width="0.8"/>
<line x1="519.0" y1="494.60" x2="520.3" y2="494.60" stroke="#555" stroke-width="0.8"/>
<line x1="519.0" y1="474.86" x2="520.3" y2="474.86" stroke="#555" stroke-width="0.8"/>
<line x1="519.0" y1="455.13" x2="520.3" y2="455.13" stroke="#555" stroke-width="0.8"/>
<line x1="519.0" y1="435.40" x2="520.3" y2="435.40" stroke="#555" stroke-width="0.8"/>
<line x1="530.80" y1="568.3" x2="530.80" y2="566.0999999999999" stroke="#555" stroke-width="0.8"/>
<text transform="translate(530.80,576.90) rotate(0.05) scale(0.93,1)" text-anchor="middle" class="tl" font-size="8">0</text>
<line x1="554.48" y1="568.3" x2="554.48" y2="566.0999999999999" stroke="#555" stroke-width="0.8"/>
<text transform="translate(554.48,576.90) rotate(0.05) scale(0.93,1)" text-anchor="middle" class="tl" font-size="8">8</text>
<line x1="578.16" y1="568.3" x2="578.16" y2="566.0999999999999" stroke="#555" stroke-width="0.8"/>
<text transform="translate(578.16,576.90) rotate(0.05) scale(0.93,1)" text-anchor="middle" class="tl" font-size="8">16</text>
<line x1="601.84" y1="568.3" x2="601.84" y2="566.0999999999999" stroke="#555" stroke-width="0.8"/>
<text transform="translate(601.84,576.90) rotate(0.05) scale(0.93,1)" text-anchor="middle" class="tl" font-size="8">24</text>
<line x1="625.52" y1="568.3" x2="625.52" y2="566.0999999999999" stroke="#555" stroke-width="0.8"/>
<text transform="translate(625.52,576.90) rotate(0.05) scale(0.93,1)" text-anchor="middle" class="tl" font-size="8">32</text>
<line x1="649.20" y1="568.3" x2="649.20" y2="566.0999999999999" stroke="#555" stroke-width="0.8"/>
<text transform="translate(649.20,576.90) rotate(0.05) scale(0.93,1)" text-anchor="middle" class="tl" font-size="8">40</text>
<line x1="672.88" y1="568.3" x2="672.88" y2="566.0999999999999" stroke="#555" stroke-width="0.8"/>
<text transform="translate(672.88,576.90) rotate(0.05) scale(0.93,1)" text-anchor="middle" class="tl" font-size="8">48</text>
<text transform="translate(551.5,587.7) rotate(0.05)" class="tt" font-size="8.8" textLength="105.4" lengthAdjust="spacingAndGlyphs">Enzymatic hydrolysis time (h)</text>
<text transform="translate(497.7,499.5) rotate(-89.95)" text-anchor="middle" class="yt" font-size="9.0">V-value</text>
<text transform="translate(489.8,421.7) rotate(0.05) scale(0.9,1)" class="pl" font-size="25">I</text>
<path d="M530.80,449.1V449.9M530.80,453.4V454.2M529.10,449.1H532.50M529.10,454.2H532.50" stroke="#666" stroke-width="0.6" fill="none"/>
<rect x="527.35" y="449.9" width="6.9" height="3.50" fill="#f6b6c8" stroke="#7a7072" stroke-width="0.6"/>
<path d="M527.35,451.3H534.25" stroke="#7a5a62" stroke-width="0.7"/>
<rect x="530.25" y="450.75" width="1.1" height="1.1" fill="#3a3a3a"/>
<text transform="translate(531.30,445.15) rotate(0.05)" text-anchor="middle" class="lt" font-size="8.5">a</text>
<path d="M554.48,447.6V449.1M554.48,457.4V459.4M552.78,447.6H556.18M552.78,459.4H556.18" stroke="#666" stroke-width="0.6" fill="none"/>
<rect x="551.03" y="449.1" width="6.9" height="8.30" fill="#a3dfe2" stroke="#6a7a7a" stroke-width="0.6"/>
<path d="M551.03,449.5H557.93" stroke="#4e7a7c" stroke-width="0.7"/>
<rect x="553.93" y="452.85" width="1.1" height="1.1" fill="#3a3a3a"/>
<text transform="translate(554.98,445.15) rotate(0.05)" text-anchor="middle" class="lt" font-size="8.5">a</text>
<path d="M578.16,484.6V487.3M578.16,498.2V500.7M576.46,484.6H579.86M576.46,500.7H579.86" stroke="#666" stroke-width="0.6" fill="none"/>
<rect x="574.71" y="487.3" width="6.9" height="10.90" fill="#fbae88" stroke="#7a7068" stroke-width="0.6"/>
<path d="M574.71,493.4H581.61" stroke="#7a5a48" stroke-width="0.7"/>
<rect x="577.61" y="491.45" width="1.1" height="1.1" fill="#3a3a3a"/>
<text transform="translate(578.66,481.15) rotate(0.05)" text-anchor="middle" class="lt" font-size="8.5">b</text>
<path d="M601.84,488.3V490.4M601.84,499.4V501.4M600.14,488.3H603.54M600.14,501.4H603.54" stroke="#666" stroke-width="0.6" fill="none"/>
<rect x="598.39" y="490.4" width="6.9" height="9.00" fill="#a2c4e8" stroke="#6c7480" stroke-width="0.6"/>
<path d="M598.39,497.4H605.29" stroke="#5a6a80" stroke-width="0.7"/>
<rect x="601.29" y="494.15" width="1.1" height="1.1" fill="#3a3a3a"/>
<text transform="translate(602.34,486.55) rotate(0.05)" text-anchor="middle" class="lt" font-size="8.5">bc</text>
<path d="M625.52,498.7V501.4M625.52,511.3V513.8M623.82,498.7H627.22M623.82,513.8H627.22" stroke="#666" stroke-width="0.6" fill="none"/>
<rect x="622.07" y="501.4" width="6.9" height="9.90" fill="#d8cdf3" stroke="#76727e" stroke-width="0.6"/>
<path d="M622.07,505.0H628.97" stroke="#6a6080" stroke-width="0.7"/>
<rect x="624.97" y="505.75" width="1.1" height="1.1" fill="#3a3a3a"/>
<text transform="translate(626.02,496.25) rotate(0.05)" text-anchor="middle" class="lt" font-size="8.5">c</text>
<path d="M649.20,518.3V519.8M649.20,526.7V528.4M647.50,518.3H650.90M647.50,528.4H650.90" stroke="#666" stroke-width="0.6" fill="none"/>
<rect x="645.75" y="519.8" width="6.9" height="6.90" fill="#f6b6c8" stroke="#7a7072" stroke-width="0.6"/>
<path d="M645.75,523.2H652.65" stroke="#7a5a62" stroke-width="0.7"/>
<rect x="648.65" y="522.65" width="1.1" height="1.1" fill="#3a3a3a"/>
<text transform="translate(649.70,514.85) rotate(0.05)" text-anchor="middle" class="lt" font-size="8.5">d</text>
<path d="M672.88,535.4V537.3M672.88,544.5V546.5M671.18,535.4H674.58M671.18,546.5H674.58" stroke="#666" stroke-width="0.6" fill="none"/>
<rect x="669.43" y="537.3" width="6.9" height="7.20" fill="#a3dfe2" stroke="#6a7a7a" stroke-width="0.6"/>
<path d="M669.43,540.8H676.33" stroke="#4e7a7c" stroke-width="0.7"/>
<rect x="672.33" y="540.25" width="1.1" height="1.1" fill="#3a3a3a"/>
<text transform="translate(673.38,532.65) rotate(0.05)" text-anchor="middle" class="lt" font-size="8.5">e</text>
</svg>
</body></html>
